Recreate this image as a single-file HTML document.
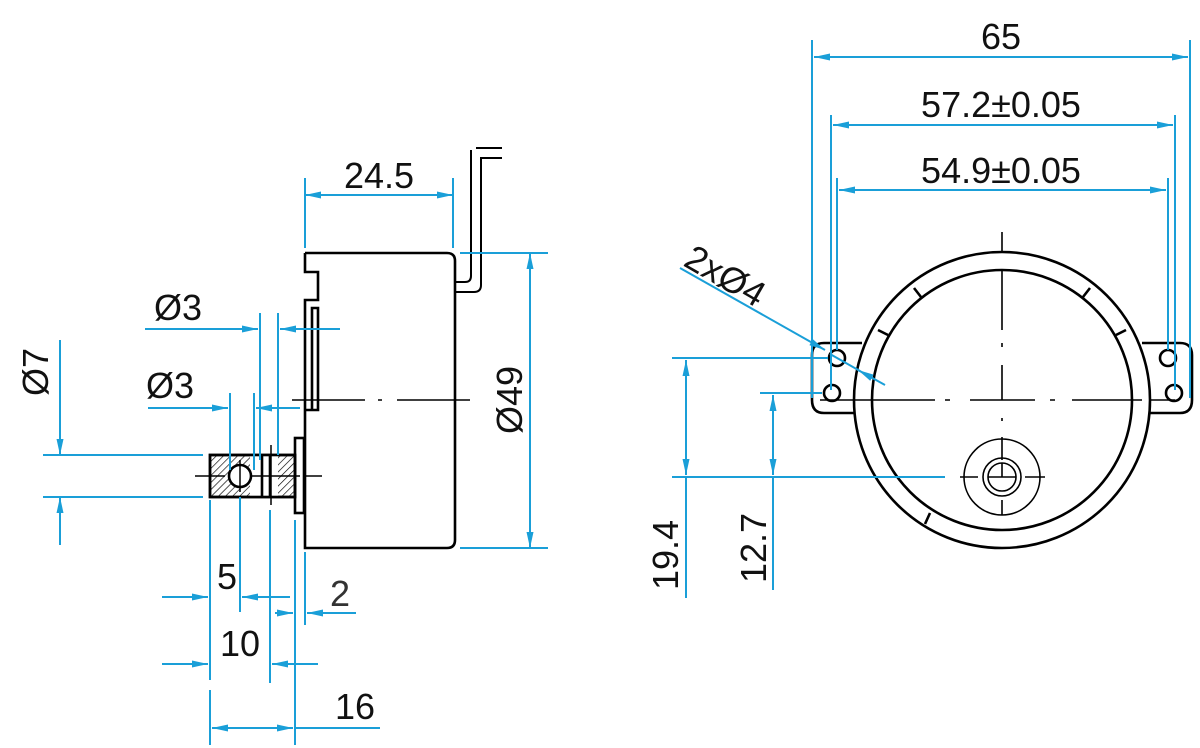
<!DOCTYPE html>
<html><head><meta charset="utf-8"><style>html,body{margin:0;padding:0;background:#fff}svg{display:block}</style></head>
<body>
<svg width="1200" height="748" viewBox="0 0 1200 748" xmlns="http://www.w3.org/2000/svg">
<defs>
<marker id="a" viewBox="0 0 16 7" refX="16" refY="3.5" markerWidth="16" markerHeight="7" markerUnits="userSpaceOnUse" orient="auto-start-reverse"><path d="M0,0L16,3.5L0,7z" fill="#1a9fd8"/></marker>
<pattern id="h" width="5" height="5" patternUnits="userSpaceOnUse" patternTransform="rotate(45)"><line x1="0" y1="0" x2="0" y2="5" stroke="#000" stroke-width="1.3"/></pattern>
</defs>
<g font-family="Liberation Sans, sans-serif" font-size="36" fill="#111">
<!-- LEFT VIEW body -->
<g stroke="#000" stroke-width="2.6" fill="none">
<path d="M305,253 H447 Q455,253 455,261 V540 Q455,548 447,548 H305 V410 H318 V308 H312 V410 M305,410 V300 H318 V272 H305 V253"/>
<rect x="295" y="438" width="9" height="75" fill="#fff"/>
<rect x="210" y="455" width="85" height="42" fill="url(#h)"/>
<rect x="250" y="455" width="28" height="42" fill="#fff" stroke="none"/>
<rect x="210" y="455" width="85" height="42"/>
<circle cx="240" cy="476" r="11" fill="#fff"/>
<path d="M270,455 V497 M262,455 V497"/>
<path d="M455,282 H465 Q471,282 471,276 V150 M455,292 H474 Q481,292 481,285 V158 H502 M476,148 H502" stroke-width="2"/>
</g>
<g stroke="#000" stroke-width="1.5" fill="none">
<path d="M292,400 H365 M378,400 H382 M397,400 H470"/>
<path d="M195,476 H225 M250,476 H300 M305,476 H322 M271,445 V505 M240,460 V492"/>
</g>
<!-- left dims -->
<g stroke="#1a9fd8" stroke-width="2" fill="none">
<path d="M305,178 V248 M453,178 V248"/>
<path d="M305,195 H453" marker-start="url(#a)" marker-end="url(#a)"/>
<path d="M460,253 H548 M460,548 H548"/>
<path d="M530,253 V548" marker-start="url(#a)" marker-end="url(#a)"/>
<path d="M145,329 H258" marker-end="url(#a)"/><path d="M340,329 H280" marker-end="url(#a)"/>
<path d="M260,313 V460 M278,313 V455"/>
<path d="M148,408 H228" marker-end="url(#a)"/><path d="M300,408 H256" marker-end="url(#a)"/>
<path d="M230,393 V470 M254,393 V470"/>
<path d="M43,455 H203 M43,497 H203"/>
<path d="M60,340 V455" marker-end="url(#a)"/><path d="M60,545 V497" marker-end="url(#a)"/>
<path d="M210,500 V680 M210,690 V745 M240,497 V612 M270,510 V683 M295,520 V745 M305,552 V625"/>
<path d="M162,597 H208" marker-end="url(#a)"/><path d="M290,597 H242" marker-end="url(#a)"/>
<path d="M275,613 H293" marker-end="url(#a)"/><path d="M356,613 H307" marker-end="url(#a)"/>
<path d="M162,664 H208" marker-end="url(#a)"/><path d="M318,664 H272" marker-end="url(#a)"/>
<path d="M212,728 H293" marker-start="url(#a)" marker-end="url(#a)"/><path d="M295,728 H380"/>
</g>
<text x="379" y="188" text-anchor="middle">24.5</text>
<text x="154" y="320">Ø3</text>
<text x="146" y="398">Ø3</text>
<text x="227" y="589" text-anchor="middle">5</text>
<text x="340" y="606" text-anchor="middle" fill="#333">2</text>
<text x="240" y="656" text-anchor="middle">10</text>
<text x="355" y="719" text-anchor="middle">16</text>
<text transform="translate(522,400) rotate(-90)" text-anchor="middle">Ø49</text>
<text transform="translate(48,372) rotate(-90)" text-anchor="middle">Ø7</text>
<!-- RIGHT VIEW -->
<g stroke="#000" stroke-width="2.6" fill="none">
<path d="M862,343 H824 Q812,343 812,355 V400 Q812,413 824,413 H860"/>
<path d="M1142,343 H1180 Q1192,343 1192,355 V400 Q1192,413 1180,413 H1144"/>
<circle cx="1002" cy="400" r="148" fill="#fff"/>
<circle cx="1002" cy="400" r="130"/>
<circle cx="837" cy="358" r="8"/><circle cx="832" cy="393" r="8"/>
<circle cx="1168" cy="358" r="8"/><circle cx="1174" cy="393" r="8"/>
<path d="M914,288 L921,297 M878,330 L888,335 M1090,288 L1083,297 M1126,330 L1116,335 M930,513 L925,524"/>
</g>
<g stroke="#000" stroke-width="1.6" fill="none">
<circle cx="1002" cy="477" r="38"/>
<circle cx="1002" cy="477" r="19"/>
<circle cx="1002" cy="477" r="14"/>
<path d="M988,477 H1016 M1002,463 V477"/>
<path d="M820,400 H935 M945,400 H950 M970,400 H1035 M1050,400 H1055 M1072,400 H1142 M1150,400 H1175"/>
<path d="M1002,232 V252 M1002,270 V330 M1002,343 V347 M1002,365 V400 M1002,418 V421 M1002,437 V460 M1002,500 V515"/>
<path d="M960,477 H978 M1025,477 H1045"/>
</g>
<g stroke="#1a9fd8" stroke-width="2" fill="none">
<path d="M812,40 V398 M1190,40 V398 M831,115 V390 M837,178 V350 M1168,178 V350 M1175,115 V390"/>
<path d="M814,57 H1188" marker-start="url(#a)" marker-end="url(#a)"/>
<path d="M833,125 H1173" marker-start="url(#a)" marker-end="url(#a)"/>
<path d="M839,190 H1166" marker-start="url(#a)" marker-end="url(#a)"/>
<path d="M680,268 L825,350" marker-end="url(#a)"/>
<path d="M885,385 L858,370" marker-end="url(#a)"/><path d="M830,354 L860,371"/>
<path d="M672,358 H828 M760,393 H822 M672,477 H945"/>
<path d="M686,360 V475" marker-start="url(#a)" marker-end="url(#a)"/><path d="M686,477 V598"/>
<path d="M773,395 V475" marker-start="url(#a)" marker-end="url(#a)"/><path d="M773,477 V590"/>
</g>
<text x="1001" y="49" text-anchor="middle">65</text>
<text x="1001" y="117" text-anchor="middle">57.2±0.05</text>
<text x="1001" y="183" text-anchor="middle">54.9±0.05</text>
<text transform="translate(682,265) rotate(30)">2xØ4</text>
<text transform="translate(678,555) rotate(-90)" text-anchor="middle">19.4</text>
<text transform="translate(766,548) rotate(-90)" text-anchor="middle">12.7</text>
</g>
</svg>
</body></html>
